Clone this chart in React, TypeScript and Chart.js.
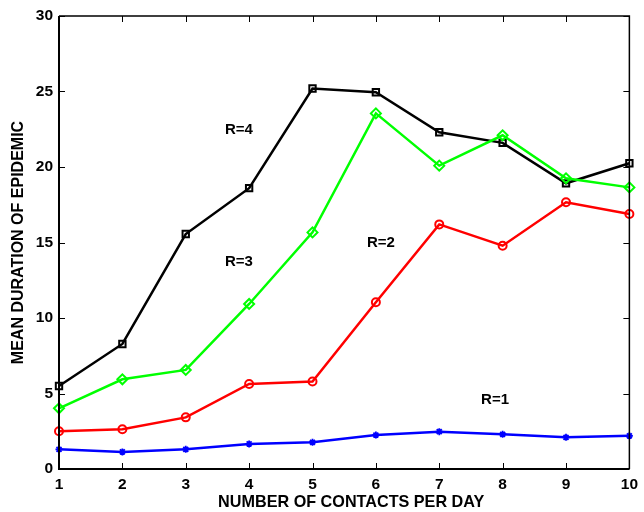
import React, { useEffect, useRef } from "react";
import { Chart, registerables } from "chart.js";

Chart.register(...registerables);

const contacts = [1, 2, 3, 4, 5, 6, 7, 8, 9, 10];
const seriesR1 = [1.3, 1.13, 1.3, 1.66, 1.77, 2.25, 2.47, 2.3, 2.1, 2.2];
const seriesR2 = [2.5, 2.63, 3.42, 5.63, 5.8, 11.04, 16.2, 14.79, 17.66, 16.89];
const seriesR3 = [4.02, 5.94, 6.56, 10.93, 15.67, 23.55, 20.09, 22.1, 19.25, 18.65];
const seriesR4 = [5.5, 8.28, 15.56, 18.6, 25.2, 24.95, 22.3, 21.6, 18.92, 20.25];

const seriesNames = ["R=1", "R=2", "R=3", "R=4"];
const labelX = [7.88, 6.08, 3.84, 3.84];
const labelY = [4.57, 14.97, 13.7, 22.45];

const yTicks = [0, 5, 10, 15, 20, 25, 30];
const xTitle = "NUMBER OF CONTACTS PER DAY";
const yTitle = "MEAN DURATION OF EPIDEMIC";

const FONT = "'Liberation Sans', Arial, Helvetica, sans-serif";

const toPoints = (vals: number[]) => vals.map((v, i) => ({ x: contacts[i], y: v }));

const boxPlugin = {
  id: "boxTicks",
  afterDatasetsDraw(chart: any) {
    const { ctx, chartArea } = chart;
    const xs = chart.scales.x;
    const ys = chart.scales.y;
    const { left, right, top, bottom } = chartArea;
    const tl = 6;
    ctx.save();
    ctx.strokeStyle = "#000";
    ctx.lineWidth = 1;
    ctx.beginPath();
    contacts.forEach((c) => {
      const px = Math.round(xs.getPixelForValue(c)) + 0.5;
      ctx.moveTo(px, bottom);
      ctx.lineTo(px, bottom - tl);
      ctx.moveTo(px, top);
      ctx.lineTo(px, top + tl);
    });
    yTicks.forEach((t) => {
      const py = Math.round(ys.getPixelForValue(t)) + 0.5;
      ctx.moveTo(left, py);
      ctx.lineTo(left + tl, py);
      ctx.moveTo(right, py);
      ctx.lineTo(right - tl, py);
    });
    ctx.stroke();
    ctx.lineWidth = 1.5;
    ctx.beginPath();
    ctx.moveTo(left, top);
    ctx.lineTo(right, top);
    ctx.lineTo(right, bottom);
    ctx.stroke();
    ctx.lineWidth = 2;
    ctx.beginPath();
    ctx.moveTo(left, top);
    ctx.lineTo(left, bottom);
    ctx.lineTo(right, bottom);
    ctx.stroke();
    ctx.fillStyle = "#000";
    ctx.font = `bold 15px ${FONT}`;
    ctx.textAlign = "center";
    ctx.textBaseline = "middle";
    seriesNames.forEach((n, i) => {
      ctx.fillText(n, xs.getPixelForValue(labelX[i]), ys.getPixelForValue(labelY[i]));
    });
    // x axis title
    ctx.font = `bold 16.2px ${FONT}`;
    ctx.fillText(xTitle, (left + right) / 2 + 7, 503);
    ctx.restore();
  },
};

export default function App() {
  const ref = useRef<HTMLCanvasElement>(null);
  useEffect(() => {
    if (!ref.current) return;
    const mk = (label: string, vals: number[], color: string, style: string, radius: number, pbw: number) => ({
      label,
      data: toPoints(vals),
      borderColor: color,
      backgroundColor: color,
      borderWidth: 2.5,
      pointStyle: style,
      pointRadius: radius,
      pointBorderColor: color,
      pointBackgroundColor: "rgba(0,0,0,0)",
      pointBorderWidth: pbw,
      tension: 0,
      clip: false,
    });
    const chart = new Chart(ref.current, {
      type: "line",
      data: {
        datasets: [
          mk("R=1", seriesR1, "#0000ff", "star", 3.5, 1.8),
          mk("R=2", seriesR2, "#ff0000", "circle", 4, 2),
          mk("R=3", seriesR3, "#00ff00", "rectRot", 5, 2),
          mk("R=4", seriesR4, "#000000", "rect", 4.5, 2),
        ] as any,
      },
      options: {
        animation: false,
        responsive: false,
        layout: { padding: { top: 16, right: 11, left: 0, bottom: 0 } },
        plugins: { legend: { display: false }, tooltip: { enabled: false } },
        scales: {
          x: {
            type: "linear",
            min: 1,
            max: 10,
            afterFit: (s: any) => {
              s.height = 43;
            },
            afterBuildTicks: (s: any) => {
              s.ticks = contacts.map((v) => ({ value: v }));
            },
            grid: { display: false, drawTicks: false },
            border: { display: false },
            ticks: {
              padding: 6,
              color: "#000",
              font: { family: FONT, size: 15.5, weight: "bold" },
            },
          },
          y: {
            min: 0,
            max: 30,
            afterFit: (s: any) => {
              s.width = 59;
            },
            afterBuildTicks: (s: any) => {
              s.ticks = yTicks.map((v) => ({ value: v }));
            },
            grid: { display: false, drawTicks: false },
            border: { display: false },
            ticks: {
              padding: 6,
              color: "#000",
              font: { family: FONT, size: 15.5, weight: "bold" },
            },
            title: {
              display: true,
              text: yTitle,
              color: "#000",
              padding: { top: 9, bottom: 0 },
              font: { family: FONT, size: 16, weight: "bold" },
            },
          },
        },
      },
      plugins: [boxPlugin],
    } as any);
    return () => chart.destroy();
  }, []);
  return (
    <div style={{ position: "fixed", left: 0, top: 0, width: 644, height: 512, background: "#fff" }}>
      <canvas ref={ref} width={644} height={512} />
    </div>
  );
}
